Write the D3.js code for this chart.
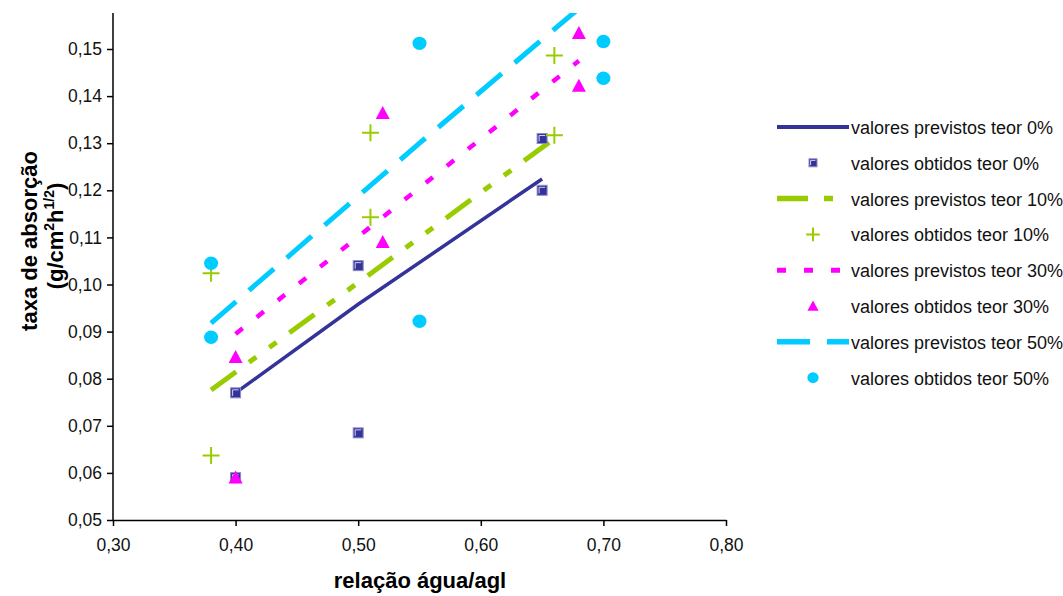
<!DOCTYPE html>
<html>
<head>
<meta charset="utf-8">
<script src="https://cdn.jsdelivr.net/npm/d3@7"></script>
<style>
  body { margin: 0; background: #fff; }
  svg { display: block; font-family: "Liberation Sans", Arial, sans-serif; }
</style>
</head>
<body>
<div id="chart"></div>
<script>
// obtained values (x = relação água/agl, y = taxa de absorção)
const obt0x = [0.40, 0.40, 0.50, 0.50, 0.65, 0.65];
const obt0y = [0.077, 0.059, 0.104, 0.0685, 0.131, 0.120];
const obt10x = [0.38, 0.38, 0.51, 0.51, 0.66, 0.66];
const obt10y = [0.1024, 0.0637, 0.1322, 0.1143, 0.1486, 0.1317];
const obt30x = [0.40, 0.40, 0.52, 0.52, 0.68, 0.68];
const obt30y = [0.0846, 0.059, 0.1364, 0.109, 0.1534, 0.1422];
const obt50x = [0.38, 0.38, 0.55, 0.55, 0.70, 0.70];
const obt50y = [0.1045, 0.0888, 0.1512, 0.0922, 0.1516, 0.1438];

// predicted values
const prev0x = [0.40, 0.50, 0.65];
const prev0y = [0.077, 0.0958, 0.1224];
const prev10x = [0.38, 0.51, 0.66];
const prev10y = [0.0776, 0.1023, 0.131];
const prev30x = [0.40, 0.52, 0.68];
const prev30y = [0.0895, 0.1143, 0.1475];
const prev50x = [0.38, 0.55, 0.70];
const prev50y = [0.0918, 0.1300, 0.163];

const xTicks = [0.30, 0.40, 0.50, 0.60, 0.70, 0.80];
const yTicks = [0.05, 0.06, 0.07, 0.08, 0.09, 0.10, 0.11, 0.12, 0.13, 0.14, 0.15];

const legendLabels = [
  "valores previstos teor 0%", "valores obtidos teor 0%",
  "valores previstos teor 10%", "valores obtidos teor 10%",
  "valores previstos teor 30%", "valores obtidos teor 30%",
  "valores previstos teor 50%", "valores obtidos teor 50%"
];

const W = 1063, H = 596;
const plotL = 113, plotR = 726, plotT = 13, plotB = 520;

const zip = (xs, ys) => xs.map((v, i) => [v, ys[i]]);

const svg = d3.select("#chart").append("svg")
  .attr("width", W).attr("height", H);

const x = d3.scaleLinear().domain([0.30, 0.80]).range([plotL, plotR]);
const y = d3.scaleLinear().domain([0.05, 0.15]).range([plotB, 49]);

const br = d3.formatLocale({ decimal: ",", thousands: ".", grouping: [3], currency: ["", ""] });
const fmt = br.format(".2f");

svg.append("clipPath").attr("id", "plot")
  .append("rect").attr("x", plotL).attr("y", plotT)
  .attr("width", plotR - plotL).attr("height", plotB - plotT);

// axes
const gx = svg.append("g")
  .attr("transform", `translate(0,${plotB})`)
  .call(d3.axisBottom(x).tickValues(xTicks).tickFormat(fmt).tickSize(6).tickSizeOuter(0));
const gy = svg.append("g")
  .attr("transform", `translate(${plotL},0)`)
  .call(d3.axisLeft(y).tickValues(yTicks).tickFormat(fmt).tickSize(6).tickSizeOuter(0));

gy.select(".domain").attr("d", `M0,${plotB}V${plotT}`);
[gx, gy].forEach(g => {
  g.select(".domain").attr("stroke", "#000").attr("stroke-width", 1.5);
  g.selectAll(".tick line").attr("stroke", "#000").attr("stroke-width", 1.5);
  g.selectAll(".tick text").attr("fill", "#111").style("font-size", "17.5px")
    .style("font-family", "'Liberation Sans', Arial, sans-serif");
});
gx.selectAll(".tick text").attr("dy", "1.25em");
gy.selectAll(".tick text").attr("x", -11);

// axis titles
svg.append("text")
  .attr("x", 420).attr("y", 588)
  .attr("text-anchor", "middle")
  .style("font-size", "22px").style("font-weight", "bold")
  .text("relação água/agl");

svg.append("text")
  .attr("transform", "translate(37,241) rotate(-90)")
  .attr("text-anchor", "middle")
  .style("font-size", "22px").style("font-weight", "bold")
  .text("taxa de absorção");

const unit = svg.append("text")
  .attr("transform", "translate(63,236) rotate(-90)")
  .attr("text-anchor", "middle")
  .style("font-size", "22px").style("font-weight", "bold");
unit.append("tspan").text("(g/cm");
unit.append("tspan").attr("dy", -9).style("font-size", "14px").text("2");
unit.append("tspan").attr("dy", 9).text("h");
unit.append("tspan").attr("dy", -9).style("font-size", "14px").text("1/2");
unit.append("tspan").attr("dy", 9).text(")");

// series styles
const series = [
  { px: prev0x, py: prev0y, ox: obt0x, oy: obt0y, color: "#333399", width: 3.5, dash: null, marker: "square" },
  { px: prev10x, py: prev10y, ox: obt10x, oy: obt10y, color: "#99cc00", width: 5, dash: "31,16,9,16,9,16", marker: "plus" },
  { px: prev30x, py: prev30y, ox: obt30x, oy: obt30y, color: "#ff00ff", width: 4.5, dash: "9,18", marker: "triangle" },
  { px: prev50x, py: prev50y, ox: obt50x, oy: obt50y, color: "#00ccff", width: 5, dash: "33,17", marker: "circle" }
];

const line = d3.line().x(d => x(d[0])).y(d => y(d[1]));

function drawMarker(g, kind, color, cx, cy, k = 1) {
  if (kind === "square") {
    const h = 5 * k, i = 3 * k;
    g.append("rect").attr("x", cx - h).attr("y", cy - h).attr("width", 2 * h).attr("height", 2 * h)
      .attr("fill", color).attr("stroke", "#8c8cc6").attr("stroke-width", 1);
    g.append("path").attr("d", `M${cx - i},${cy + i}V${cy - i}H${cx + i}`)
      .attr("fill", "none").attr("stroke", "#d0d0f0").attr("stroke-width", 1);
  } else if (kind === "plus") {
    const h = 8.5 * k;
    g.append("path").attr("d", `M${cx - h},${cy}H${cx + h}M${cx},${cy - h}V${cy + h}`)
      .attr("stroke", color).attr("stroke-width", 2);
  } else if (kind === "triangle") {
    g.append("path").attr("d", `M${cx},${cy - 7 * k}L${cx + 7 * k},${cy + 6 * k}L${cx - 7 * k},${cy + 6 * k}Z`)
      .attr("fill", color);
  } else {
    g.append("ellipse").attr("cx", cx).attr("cy", cy).attr("rx", 7 * k).attr("ry", 6.7 * k)
      .attr("fill", color);
  }
}

const plot = svg.append("g");
series.forEach(s => {
  plot.append("path")
    .datum(zip(s.px, s.py))
    .attr("clip-path", "url(#plot)")
    .attr("d", line)
    .attr("fill", "none")
    .attr("stroke", s.color)
    .attr("stroke-width", s.width)
    .attr("stroke-dasharray", s.dash);
});
series.forEach(s => {
  const g = plot.append("g");
  zip(s.ox, s.oy).forEach(d => drawMarker(g, s.marker, s.color, x(d[0]), y(d[1])));
});

// legend
const legend = svg.append("g");
const rowY = i => 127 + i * 35.8;
legendLabels.forEach((label, i) => {
  const s = series[Math.floor(i / 2)];
  const yy = rowY(i);
  if (i % 2 === 0) {
    legend.append("line")
      .attr("x1", 777).attr("x2", 849).attr("y1", yy).attr("y2", yy)
      .attr("stroke", s.color).attr("stroke-width", s.width + 0.5)
      .attr("stroke-dasharray", s.dash);
  } else {
    drawMarker(legend, s.marker, s.color, 813, yy, 0.8);
  }
  legend.append("text")
    .attr("x", 851).attr("y", yy + 7)
    .style("font-size", "18px").attr("fill", "#111")
    .text(label);
});
</script>
</body>
</html>
